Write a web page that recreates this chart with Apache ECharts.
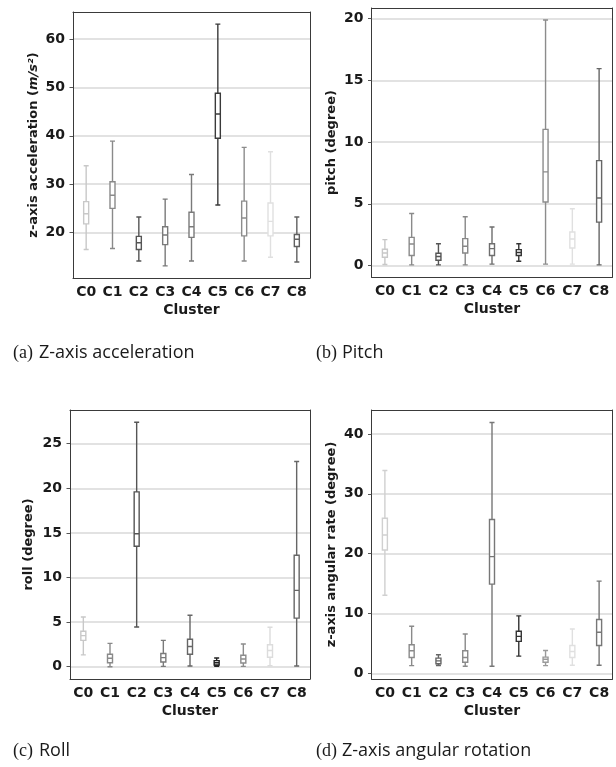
<!DOCTYPE html>
<html>
<head>
<meta charset="utf-8">
<script src="https://cdn.jsdelivr.net/npm/echarts@6/dist/echarts.min.js"></script>
<style>
  html, body { margin: 0; padding: 0; background: #fff; }
  #main { width: 616px; height: 767px; }
</style>
</head>
<body>
<div id="main"></div>
<script>
// cluster names shared by all four panels
var clusters = ['C0', 'C1', 'C2', 'C3', 'C4', 'C5', 'C6', 'C7', 'C8'];

// each box: [low whisker, Q1, median, Q3, high whisker]
var accelBoxes = [
    [16.5, 21.8, 23.9, 26.4, 33.8],
    [16.7, 25.0, 27.7, 30.5, 38.9],
    [14.1, 16.5, 17.9, 19.2, 23.2],
    [13.1, 17.5, 19.5, 21.2, 26.9],
    [14.1, 19.0, 21.2, 24.2, 32.0],
    [25.7, 39.5, 44.5, 48.8, 63.1],
    [14.1, 19.3, 23.0, 26.5, 37.6],
    [14.9, 19.3, 22.3, 26.1, 36.7],
    [13.9, 17.1, 18.6, 19.6, 23.2]
];
var pitchBoxes = [
    [0.08, 0.67, 1.02, 1.32, 2.10],
    [0.05, 0.81, 1.75, 2.28, 4.22],
    [0.05, 0.43, 0.73, 0.99, 1.77],
    [0.05, 1.02, 1.56, 2.18, 3.95],
    [0.11, 0.81, 1.37, 1.77, 3.12],
    [0.35, 0.81, 1.05, 1.29, 1.77],
    [0.11, 5.15, 7.59, 11.03, 19.9],
    [0.11, 1.42, 2.15, 2.72, 4.60],
    [0.05, 3.52, 5.47, 8.50, 15.96]
];
var rollBoxes = [
    [1.33, 2.95, 3.48, 3.98, 5.57],
    [0.00, 0.45, 0.95, 1.40, 2.61],
    [4.45, 13.5, 14.9, 19.6, 27.4],
    [0.04, 0.53, 1.02, 1.48, 2.95],
    [0.08, 1.40, 2.27, 3.07, 5.76],
    [0.04, 0.19, 0.45, 0.68, 0.98],
    [0.04, 0.42, 0.87, 1.29, 2.54],
    [0.11, 1.06, 1.82, 2.46, 4.43],
    [0.08, 5.45, 8.56, 12.5, 23.0]
];
var yawBoxes = [
    [13.05, 20.6, 23.1, 25.9, 33.9],
    [1.29, 2.64, 3.76, 4.78, 7.87],
    [1.30, 1.60, 2.08, 2.53, 3.09],
    [1.18, 1.85, 2.64, 3.76, 6.57],
    [1.18, 14.9, 19.5, 25.7, 41.9],
    [2.87, 5.34, 6.18, 7.02, 9.60],
    [1.29, 1.85, 2.36, 2.70, 3.82],
    [1.35, 2.64, 3.65, 4.66, 7.40],
    [1.35, 4.66, 6.85, 8.99, 15.4]
];

// y tick labels of each panel
var accelTicks = [20, 30, 40, 50, 60];
var pitchTicks = [0, 5, 10, 15, 20];
var rollTicks = [0, 5, 10, 15, 20, 25];
var yawTicks = [0, 10, 20, 30, 40];

// grey shade of every cluster's box, one list per panel
var shadesA = ['#c8c8c8', '#8a8a8a', '#555555', '#7a7a7a', '#7a7a7a', '#3a3a3a', '#8c8c8c', '#e0e0e0', '#606060'];
var shadesB = ['#c8c8c8', '#8a8a8a', '#555555', '#888888', '#6e6e6e', '#333333', '#8c8c8c', '#e0e0e0', '#666666'];
var shadesC = ['#c8c8c8', '#8a8a8a', '#555555', '#7a7a7a', '#666666', '#222222', '#8c8c8c', '#dcdcdc', '#666666'];
var shadesD = ['#d0d0d0', '#8a8a8a', '#666666', '#8a8a8a', '#777777', '#333333', '#9a9a9a', '#e0e0e0', '#777777'];

var chart = echarts.init(document.getElementById('main'), null, {renderer: 'canvas'});

var boldFont = 'DejaVu Sans';
var frameColor = '#3a3a3a';
var panels = [
    {rect: {left: 73, top: 12, width: 237, height: 266}, boxes: accelBoxes, shades: shadesA, ticks: accelTicks,
     yName: '{n|z-axis acceleration (}{i|m/s²}{n|)}', min: 10.6, max: 65.6, gap: 33},
    {rect: {left: 371.5, top: 8, width: 241, height: 269}, boxes: pitchBoxes, shades: shadesB, ticks: pitchTicks,
     yName: '{n|pitch (degree)}', min: -0.93, max: 20.87, gap: 33},
    {rect: {left: 70, top: 410, width: 240, height: 269}, boxes: rollBoxes, shades: shadesC, ticks: rollTicks,
     yName: '{n|roll (degree)}', min: -1.38, max: 28.78, gap: 35},
    {rect: {left: 371.5, top: 410, width: 241, height: 269}, boxes: yawBoxes, shades: shadesD, ticks: yawTicks,
     yName: '{n|z-axis angular rate (degree)}', min: -0.95, max: 44.0, gap: 33}
];

var grids = [], xAxes = [], yAxes = [], frameX = [], frameY = [], series = [];
panels.forEach(function (p, i) {
    grids.push({
        left: p.rect.left, top: p.rect.top, width: p.rect.width, height: p.rect.height
    });
    xAxes.push({
        type: 'category', gridIndex: i, data: clusters, position: 'bottom',
        name: 'Cluster', nameLocation: 'middle', nameGap: 25,
        nameTextStyle: {fontFamily: boldFont, fontWeight: 'bold', fontSize: 14, color: '#1a1a1a'},
        axisLine: {onZero: false, lineStyle: {color: frameColor, width: 1}},
        axisTick: {alignWithLabel: true, length: 3.5, lineStyle: {color: '#555'}},
        axisLabel: {interval: 0, margin: 7, fontFamily: boldFont, fontWeight: 'bold', fontSize: 14, color: '#1a1a1a'},
        splitLine: {show: false}
    });
    yAxes.push({
        type: 'value', gridIndex: i, min: p.min, max: p.max, position: 'left',
        name: p.yName, nameLocation: 'middle', nameGap: p.gap, nameRotate: 90,
        nameTextStyle: {
            rich: {
                n: {fontFamily: boldFont, fontWeight: 'bold', fontSize: 13, color: '#1a1a1a'},
                i: {fontFamily: boldFont, fontWeight: 'bold', fontStyle: 'italic', fontSize: 13, color: '#1a1a1a'}
            }
        },
        axisLine: {show: true, onZero: false, lineStyle: {color: frameColor, width: 1}},
        axisTick: {show: true, length: 3.5, customValues: p.ticks, lineStyle: {color: '#555'}},
        axisLabel: {margin: 8, customValues: p.ticks, fontFamily: boldFont, fontWeight: 'bold', fontSize: 14, color: '#1a1a1a'},
        splitLine: {show: true, lineStyle: {color: '#d8d8d8', width: 1.5}}
    });
    // top and right edges of the frame
    frameX.push({
        type: 'category', gridIndex: i, data: clusters, position: 'top',
        axisLine: {show: true, onZero: false, lineStyle: {color: frameColor, width: 1}},
        axisTick: {show: false}, axisLabel: {show: false}, splitLine: {show: false}
    });
    frameY.push({
        type: 'value', gridIndex: i, min: p.min, max: p.max, position: 'right',
        axisLine: {show: true, onZero: false, lineStyle: {color: frameColor, width: 1}},
        axisTick: {show: false}, axisLabel: {show: false}, splitLine: {show: false}
    });
    series.push({
        type: 'boxplot', xAxisIndex: i, yAxisIndex: i,
        boxWidth: [5, 5],
        itemStyle: {color: '#ffffff', borderWidth: 1.4},
        data: p.boxes.map(function (b, j) {
            return {value: b, itemStyle: {borderColor: p.shades[j]}};
        })
    });
});

var captions = [
    {x: 13, y: 353, tag: '(a)', label: 'Z-axis acceleration'},
    {x: 316, y: 353, tag: '(b)', label: 'Pitch'},
    {x: 13, y: 751, tag: '(c)', label: 'Roll'},
    {x: 316, y: 751, tag: '(d)', label: 'Z-axis angular rotation'}
];
var graphics = [];
captions.forEach(function (c) {
    graphics.push({
        type: 'text', x: c.x, y: c.y, silent: true,
        style: {text: c.tag, font: '18px "Liberation Serif"', fill: '#1a1a1a', verticalAlign: 'middle'}
    });
    graphics.push({
        type: 'text', x: c.x + 26, y: c.y, silent: true,
        style: {text: c.label, font: '18px "Open Sans"', fill: '#1a1a1a', verticalAlign: 'middle'}
    });
});

chart.setOption({
    animation: false,
    grid: grids,
    xAxis: xAxes.concat(frameX),
    yAxis: yAxes.concat(frameY),
    series: series,
    graphic: graphics
});
</script>
</body>
</html>
